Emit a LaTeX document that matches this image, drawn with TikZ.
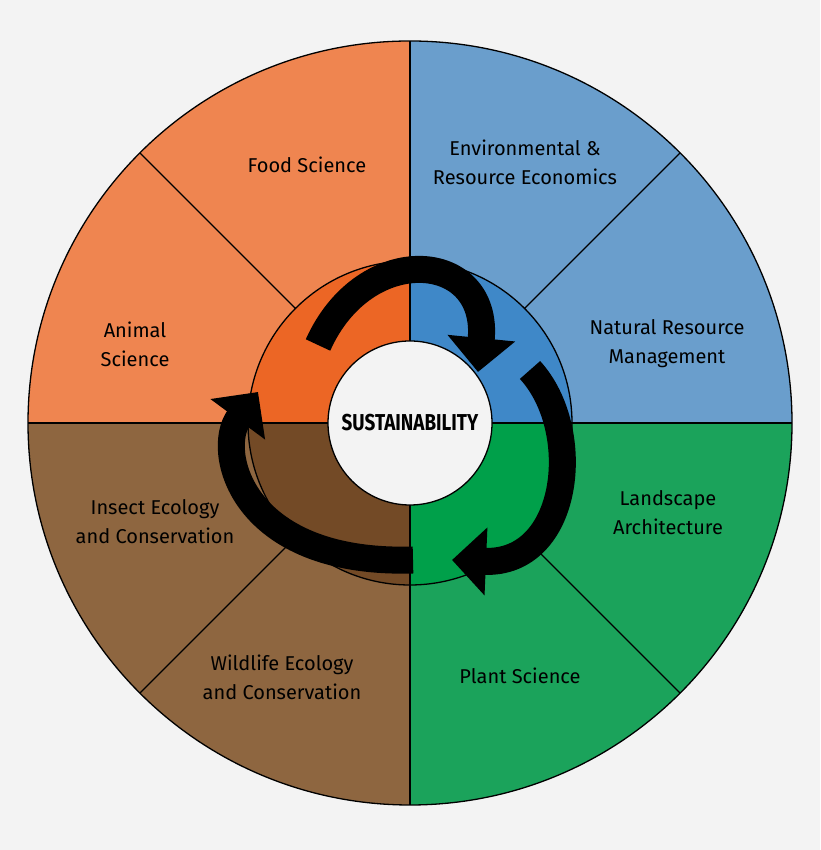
\documentclass[tikz,border=0pt]{standalone}
\usepackage{fontspec}
\setmainfont{Fira Sans}
\usetikzlibrary{arrows.meta}
\definecolor{bg}{HTML}{F3F3F3}
\definecolor{oO}{HTML}{EF8550}\definecolor{oB}{HTML}{6A9ECC}
\definecolor{oBr}{HTML}{8E6640}\definecolor{oG}{HTML}{1BA35B}
\definecolor{iO}{HTML}{EC6625}\definecolor{iB}{HTML}{3F88C8}
\definecolor{iBr}{HTML}{734A26}\definecolor{iG}{HTML}{00A04A}
\tikzset{lbl/.style={align=center,font=\fontsize{20}{29}\selectfont,text=black},
div/.style={line width=1.3pt,black},
arr/.style={line width=27pt,-{Triangle[length=34pt,width=66pt]}}}
\begin{document}
\begin{tikzpicture}[x=1pt,y=1pt]
\fill[bg] (0,0) rectangle (820,850);
\coordinate (c) at (410,427);
\fill[oB] (c) -- ++(0:382) arc(0:90:382) -- cycle;
\fill[oO] (c) -- ++(90:382) arc(90:180:382) -- cycle;
\fill[oBr] (c) -- ++(180:382) arc(180:270:382) -- cycle;
\fill[oG] (c) -- ++(270:382) arc(270:360:382) -- cycle;
\fill[iB] (c) -- ++(0:162) arc(0:90:162) -- cycle;
\fill[iO] (c) -- ++(90:162) arc(90:180:162) -- cycle;
\fill[iBr] (c) -- ++(180:162) arc(180:270:162) -- cycle;
\fill[iG] (c) -- ++(270:162) arc(270:360:162) -- cycle;
\foreach \a in {0,90,180,270} \draw[div] (c) ++(\a:82) -- ++(\a:300);
\foreach \a in {45,135,225,315} \draw[div] (c) ++(\a:162) -- ++(\a:220);
\draw[div] (c) circle (382);
\draw[div] (c) circle (162);
\draw[arr] (318,505) .. controls (365,610) and (490,600) .. (478,478);
\draw[arr] (530,480) .. controls (585,420) and (570,285) .. (452,290);
\draw[arr] (413,290) .. controls (240,285) and (215,400) .. (258,458);
\fill[bg] (c) circle (82);
\draw[div] (c) circle (82);
\node[font=\fontsize{23}{25}\selectfont\bfseries\addfontfeature{FakeStretch=0.82}] at (c) {SUSTAINABILITY};
\node[lbl] at (307,685) {Food Science};
\node[lbl] at (525,688) {Environmental \&\\Resource Economics};
\node[lbl] at (667,506) {Natural Resource\\Management};
\node[lbl] at (135,506) {Animal\\Science};
\node[lbl] at (668,337) {Landscape\\Architecture};
\node[lbl] at (155,328) {Insect Ecology\\and Conservation};
\node[lbl] at (282,173) {Wildlife Ecology\\and Conservation};
\node[lbl] at (520,174) {Plant Science};
\end{tikzpicture}
\end{document}
